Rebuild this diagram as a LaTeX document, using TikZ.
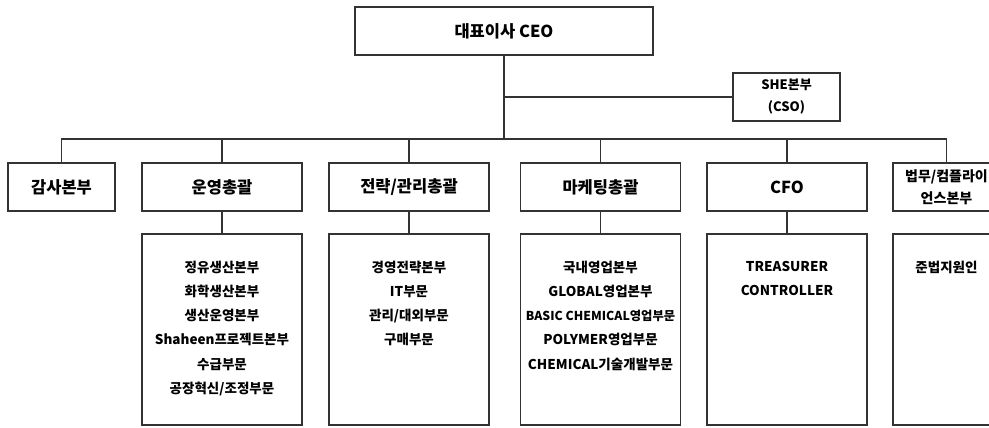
\documentclass[tikz,border=0pt]{standalone}
\usepackage{fontspec}
\setmainfont{Noto Sans CJK KR}
\usetikzlibrary{positioning}
\begin{document}
\begin{tikzpicture}[x=1pt,y=-1pt,line width=1.3pt,
  box/.style={draw=black!80,line width=1.6pt,minimum width=160pt,minimum height=48pt,inner sep=0pt,align=center,font=\fontsize{16.5}{18}\selectfont\bfseries},
  smallbox/.style={box,minimum width=107pt},
  listbox/.style={draw=black!80,line width=1.6pt,minimum width=160pt,minimum height=191pt,inner sep=0pt},
  listtext/.style={inner sep=0pt,align=center,font=\fontsize{13.5}{24.2}\selectfont\bfseries}]
\useasboundingbox (0,0) rectangle (989,428);
\clip (0,0) rectangle (989,428);

\node[box,minimum width=298pt] (ceo) at (504,31) {대표이사 CEO};
\node[smallbox,font=\fontsize{13}{22}\selectfont\bfseries] (she) at (786.5,97) {SHE본부\\(CSO)};

\node[smallbox] (audit) at (61.5,187) {감사본부};
\node[box] (oper) at (222,187) {운영총괄};
\node[box] (strat) at (409,187) {전략/관리총괄};
\node[box] (mkt) at (600.5,187) {마케팅총괄};
\node[box] (cfo) at (787,187) {CFO};
\node[smallbox,font=\fontsize{14}{22}\selectfont\bfseries] (legal) at (946.5,187) {법무/컴플라이\\언스본부};

\node[listbox] (oper2) at (222,329.5) {};
\node[listbox] (strat2) at (409,329.5) {};
\node[listbox] (mkt2) at (600.5,329.5) {};
\node[listbox] (cfo2) at (787,329.5) {};
\node[listbox,minimum width=107pt] (legal2) at (946.5,329.5) {};

\node[listtext,below=27pt of oper2.north] (opertxt) {정유생산본부\\화학생산본부\\생산운영본부\\Shaheen프로젝트본부\\수급부문\\공장혁신/조정부문};
\node[listtext,below=27pt of strat2.north] (strattxt) {경영전략본부\\IT부문\\관리/대외부문\\구매부문};
\node[listtext,below=27pt of mkt2.north] (mkttxt) {국내영업본부\\GLOBAL영업본부\\{\fontsize{12.3}{24.2}\selectfont BASIC CHEMICAL영업부문}\\POLYMER영업부문\\CHEMICAL기술개발부문};
\node[listtext,below=27pt of cfo2.north] (cfotxt) {TREASURER\\CONTROLLER};
\node[listtext,below=27pt of legal2.north] (legaltxt) {준법지원인};

\coordinate (bus) at (504,139);
\draw[black!80] (ceo.south) -- (bus);
\draw[black!80] (ceo.south |- she.west) -- (she.west);
\draw[black!80] (audit.north) |- (legal.north |- bus) -- (legal.north);
\foreach \n in {oper,strat,mkt,cfo}
  \draw[black!80] (\n.north) -- (\n.north |- bus);
\foreach \n in {oper,strat,mkt,cfo}
  \draw[black!80] (\n.south) -- (\n2.north);
\end{tikzpicture}
\end{document}
